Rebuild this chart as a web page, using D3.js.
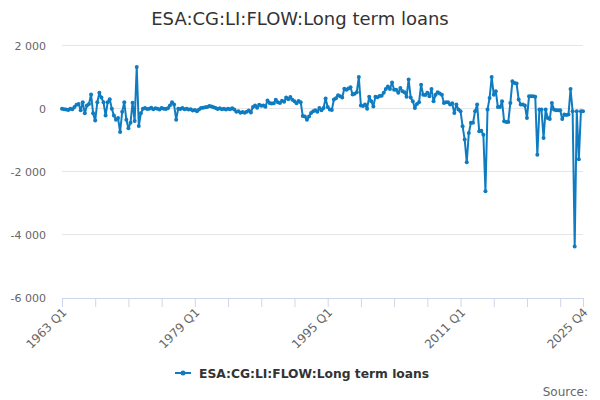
<!DOCTYPE html>
<html><head><meta charset="utf-8">
<script src="https://cdn.jsdelivr.net/npm/d3@7"></script>
<style>body{margin:0;background:#fff}svg{display:block;font-family:"DejaVu Sans",sans-serif}</style>
</head><body><svg id="c" width="600" height="400"></svg>
<script>
const title = "ESA:CG:LI:FLOW:Long term loans";
const seriesName = "ESA:CG:LI:FLOW:Long term loans";
const startYear = 1963, endYear = 2025;
const yTicks = [2000, 0, -2000, -4000, -6000];
const xLabelQuarters = ["1963 Q1", "1979 Q1", "1995 Q1", "2011 Q1", "2025 Q4"];
const values = [
0,-20,-30,-40,0,-20,50,120,150,-50,200,-150,100,150,450,-150,-380,200,500,350,
200,-220,200,300,0,-220,-350,-300,-740,-100,200,-350,-620,-450,190,-390,1320,-550,-150,0,
20,-10,0,30,-20,10,0,-30,20,0,-10,10,100,200,130,-350,0,-10,20,-20,
0,-30,-20,-60,-40,-80,-30,20,30,40,50,80,70,40,20,-10,10,-20,0,-30,
0,-20,10,-30,-100,-80,-130,-110,-130,-100,-60,-120,50,100,30,120,90,100,60,260,
180,160,170,280,200,180,250,220,350,300,370,280,230,170,240,200,-230,-250,-350,-250,
-140,-80,-50,-100,20,-50,20,320,50,-30,-40,290,330,420,390,350,630,600,640,680,
450,470,520,1000,100,80,130,0,380,230,70,380,360,400,410,500,620,700,620,830,
600,600,500,650,550,520,380,920,350,230,20,150,200,760,440,430,500,390,620,230,
440,520,480,440,180,200,200,130,170,-140,130,-30,-80,-560,-980,-1700,-770,-450,-450,-85,
130,-720,-700,-830,-2620,-30,340,1000,440,550,50,50,230,-400,-420,-420,180,870,810,800,
290,130,130,100,-300,390,390,390,380,-1460,-30,-30,-930,-30,-300,-330,180,-30,-50,-50,
-50,-330,-190,-200,-190,620,-85,-4370,-85,-1600,-85,-85
];
const quarters = [];
for (let y = startYear; y <= endYear; y++) for (let q = 1; q <= 4; q++) quarters.push(y + " Q" + q);
const data = quarters.map((q, i) => ({q, v: values[i]}));

const svg = d3.select("#c");
const x = d3.scalePoint().domain(quarters).range([62, 583]);
const y = d3.scaleLinear().domain([-6000, 2000]).range([298, 45.5]);
const fmt = v => d3.format(",")(v).replace(/,/g, " ").replace("\u2212", "-");

svg.append("text").attr("x", 300).attr("y", 25).attr("text-anchor", "middle")
  .attr("font-size", 18).attr("fill", "#333").text(title);

// grid
svg.append("g").selectAll("line").data(yTicks.filter(t => t !== -6000)).join("line")
  .attr("x1", 62).attr("x2", 583).attr("y1", d => y(d)).attr("y2", d => y(d))
  .attr("stroke", "#e6e6e6").attr("stroke-width", 1).attr("shape-rendering", "crispEdges");

// y axis labels
const yAxis = d3.axisLeft(y).tickValues(yTicks).tickSize(0).tickPadding(0).tickFormat(fmt);
const gy = svg.append("g").attr("transform", "translate(46,0)").call(yAxis);
gy.select(".domain").remove();
gy.selectAll("text").attr("font-size", 11).attr("fill", "#666").attr("font-family", "DejaVu Sans");

// x axis
const tickQ = quarters.filter((q, i) => i % 16 === 0).concat([quarters[quarters.length - 1]]);
const xAxis = d3.axisBottom(x).tickValues(tickQ).tickSize(9).tickPadding(4)
  .tickFormat(d => xLabelQuarters.includes(d) ? d : "");
const gx = svg.append("g").attr("transform", "translate(0,298)").call(xAxis);
gx.select(".domain").attr("stroke", "#ccd6eb").attr("d", "M62,0.5H583");
gx.selectAll(".tick line").attr("stroke", "#ccd6eb");
gx.selectAll("text").attr("font-size", 12).attr("fill", "#666").attr("font-family", "DejaVu Sans")
  .attr("text-anchor", "end").attr("dy", null).attr("transform", "translate(5,15) rotate(-45)")
  .attr("y", 0).attr("x", 0);

// line
const color = "#0f7cc1";
svg.append("path").datum(data)
  .attr("d", d3.line().x(d => x(d.q)).y(d => y(d.v)))
  .attr("fill", "none").attr("stroke", color).attr("stroke-width", 2).attr("stroke-linejoin", "round");
svg.append("g").selectAll("circle").data(data).join("circle")
  .attr("cx", d => x(d.q)).attr("cy", d => y(d.v)).attr("r", 2).attr("fill", color);

// legend
const lg = svg.append("g").attr("transform", "translate(0,373)");
lg.append("line").attr("x1", 175).attr("x2", 191).attr("y1", 0).attr("y2", 0).attr("stroke", color).attr("stroke-width", 2);
lg.append("circle").attr("cx", 183).attr("cy", 0).attr("r", 2.5).attr("fill", color);
lg.append("text").attr("x", 199).attr("y", 4.5).attr("font-size", 12.3).attr("font-weight", "bold")
  .attr("fill", "#333").text(seriesName);

svg.append("text").attr("x", 588).attr("y", 396).attr("text-anchor", "end")
  .attr("font-size", 12).attr("fill", "#666").text("Source:");
</script></body></html>
